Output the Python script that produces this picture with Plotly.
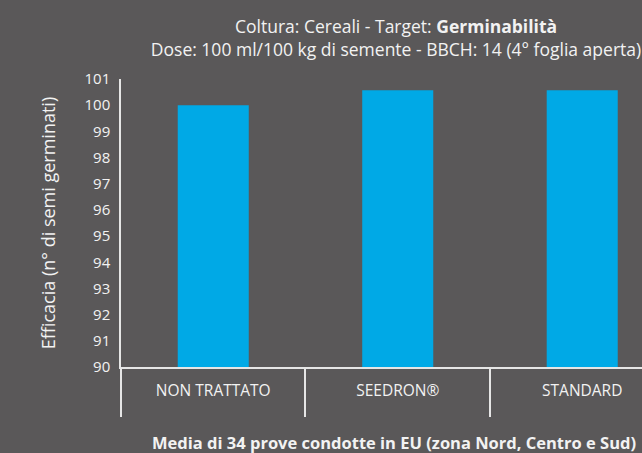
import plotly.graph_objects as go

categories = ["NON TRATTATO", "SEEDRON®", "STANDARD"]
values = [100.0, 100.57, 100.57]
y_ticks = list(range(90, 102))

title_line1 = "Coltura: Cereali - Target: <b>Germinabilità</b>"
title_line2 = "Dose: 100 ml/100 kg di semente - BBCH: 14 (4° foglia aperta)"
y_title = "Efficacia (n° di semi germinati)"
footnote = "<b>Media di 34 prove condotte in EU (zona Nord, Centro e Sud)</b>"

BG = "#5a5859"
TXT = "#f2f2f2"
LINE = "#e6e6e6"
BAR = "#00a9e6"
FONT = "Open Sans"

fig = go.Figure()
fig.add_trace(go.Bar(x=categories, y=values, marker=dict(color=BAR, line=dict(width=0)),
                     width=0.385, hoverinfo="skip"))

fig.update_layout(
    width=642, height=453,
    paper_bgcolor=BG, plot_bgcolor=BG,
    margin=dict(l=121, r=0, t=79, b=86),
    showlegend=False,
    font=dict(family=FONT, color=TXT, size=15),
    title=dict(text=title_line1 + "<br>" + title_line2,
               x=396 / 642, xanchor="center", xref="container",
               y=1 - 33 / 453, yanchor="top", yref="container",
               font=dict(family=FONT, size=17.5, color=TXT)),
    annotations=[dict(text=footnote, xref="paper", yref="paper",
                      x=(394 - 121) / 521, y=(367 - 442) / 288,
                      xanchor="center", yanchor="middle", showarrow=False,
                      font=dict(family=FONT, size=16.5, color=TXT))],
)

fig.update_xaxes(
    type="category", range=[-0.5, 2.324],
    showline=True, linecolor=LINE, linewidth=1.5,
    ticks="outside", tickson="boundaries", ticklen=48, tickwidth=1.5, tickcolor=LINE,
    ticklabelstandoff=9,
    tickfont=dict(family=FONT, size=15.5, color=TXT),
    showgrid=False, zeroline=False, fixedrange=True,
)
fig.update_yaxes(
    range=[90, 101], tickmode="array", tickvals=y_ticks, ticktext=[str(v) for v in y_ticks],
    showline=True, linecolor=LINE, linewidth=1.5, ticks="",
    ticklabelstandoff=6,
    tickfont=dict(family=FONT, size=15, color=TXT),
    title=dict(text=y_title, font=dict(family=FONT, size=18, color=TXT), standoff=24),
    showgrid=False, zeroline=False, fixedrange=True,
)

fig.write_html("out.html", config={"displayModeBar": False},
               post_script="document.body.style.margin='0';document.body.style.padding='0';"
                           "document.body.style.background='" + BG + "';")
